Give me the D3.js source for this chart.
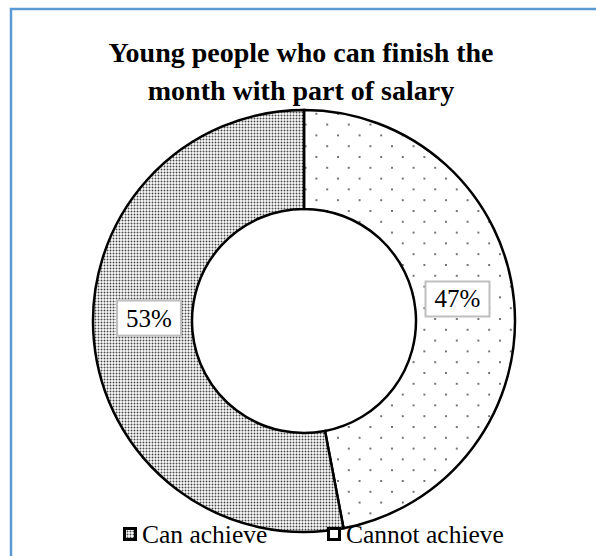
<!DOCTYPE html>
<html>
<head>
<meta charset="utf-8">
<script src="https://cdn.jsdelivr.net/npm/d3@7"></script>
<style>
  body { margin: 0; background: #fff; }
  svg { display: block; }
  .serif { font-family: "Liberation Serif", "Times New Roman", Times, serif; }
</style>
</head>
<body>
<div id="chart"></div>
<script>
var width = 596,
    height = 556;

// data, clockwise from 12 o'clock as in the picture
var categories = ["Cannot achieve", "Can achieve"];
var values = [47, 53];
var legendOrder = ["Can achieve", "Cannot achieve"];
var titleLines = ["Young people who can finish the", "month with part of salary"];

var cx = 304, cy = 321,
    outerR = 211, innerR = 112;
// small angular nudges Excel applies to the data labels (radians)
var labelNudge = [-0.045, 0.11];

var svg = d3.select("#chart").append("svg")
    .attr("width", width)
    .attr("height", height);

var defs = svg.append("defs");

// dense dot pattern (Can achieve)
var dense = defs.append("pattern")
    .attr("id", "dense")
    .attr("patternUnits", "userSpaceOnUse")
    .attr("width", 3).attr("height", 3);
dense.append("rect").attr("width", 3).attr("height", 3).attr("fill", "#fff");
dense.append("circle").attr("cx", 1.5).attr("cy", 1.5).attr("r", 1).attr("fill", "#4a4a4a");

// sparse dot pattern (Cannot achieve)
var sparse = defs.append("pattern")
    .attr("id", "sparse")
    .attr("patternUnits", "userSpaceOnUse")
    .attr("x", cx - 1).attr("y", cy)
    .attr("width", 21.6).attr("height", 21.6);
sparse.append("rect").attr("width", 21.6).attr("height", 21.6).attr("fill", "#fff");
sparse.append("circle").attr("cx", 1).attr("cy", 1).attr("r", 1).attr("fill", "#444");
sparse.append("circle").attr("cx", 11.8).attr("cy", 11.8).attr("r", 1).attr("fill", "#444");

var fills = d3.scaleOrdinal()
    .domain(["Can achieve", "Cannot achieve"])
    .range(["url(#dense)", "url(#sparse)"]);

// outer blue frame
svg.append("rect")
    .attr("x", 11).attr("y", 9)
    .attr("width", width + 20).attr("height", height + 20)
    .attr("fill", "none")
    .attr("stroke", "#5b9bd5")
    .attr("stroke-width", 2.5);

// title
svg.append("text")
    .attr("class", "serif")
    .attr("x", 301)
    .attr("font-weight", "bold")
    .attr("font-size", 28)
    .attr("text-anchor", "middle")
    .selectAll("tspan")
    .data(titleLines)
    .enter().append("tspan")
    .attr("x", 301)
    .attr("y", function(d, i) { return 62 + i * 38; })
    .text(function(d) { return d; });

var pie = d3.pie().sort(null).value(function(d) { return d; });
var arcs = pie(values);

var arc = d3.arc().innerRadius(innerR).outerRadius(outerR);
var labelArc = d3.arc().innerRadius(155).outerRadius(155);

var g = svg.append("g").attr("transform", "translate(" + cx + "," + cy + ")");

g.selectAll("path")
  .data(arcs)
  .enter().append("path")
  .attr("d", arc)
  .attr("fill", function(d, i) { return fills(categories[i]); })
  .attr("stroke", "#000")
  .attr("stroke-width", 2.5)
  .attr("stroke-linejoin", "miter");

// data labels
var lab = g.selectAll(".lab")
  .data(arcs)
  .enter().append("g")
  .attr("class", "lab")
  .attr("transform", function(d, i) {
    var a = (d.startAngle + d.endAngle) / 2 + labelNudge[i];
    var c = labelArc.centroid({startAngle: a, endAngle: a});
    return "translate(" + c[0] + "," + c[1] + ")";
  });

lab.append("rect")
  .attr("x", -32).attr("y", -18)
  .attr("width", 64).attr("height", 35)
  .attr("fill", "#fff")
  .attr("stroke", "#bfbfbf")
  .attr("stroke-width", 2);

lab.append("text")
  .attr("class", "serif")
  .attr("text-anchor", "middle")
  .attr("y", 8)
  .attr("font-size", 25)
  .text(function(d) { return d.data + "%"; });

// legend
var legendX = [123, 327];
var leg = svg.selectAll(".leg")
  .data(legendOrder)
  .enter().append("g")
  .attr("class", "leg")
  .attr("transform", function(d, i) { return "translate(" + legendX[i] + ",527)"; });

leg.append("rect")
  .attr("x", 1.5).attr("y", 1.5)
  .attr("width", 11).attr("height", 11)
  .attr("fill", function(d) { return d === "Can achieve" ? "url(#dense)" : "#fff"; })
  .attr("stroke", "#000")
  .attr("stroke-width", 3);

leg.append("text")
  .attr("class", "serif")
  .attr("x", 19)
  .attr("y", 16)
  .attr("font-size", 25.5)
  .text(function(d) { return d; });
</script>
</body>
</html>
